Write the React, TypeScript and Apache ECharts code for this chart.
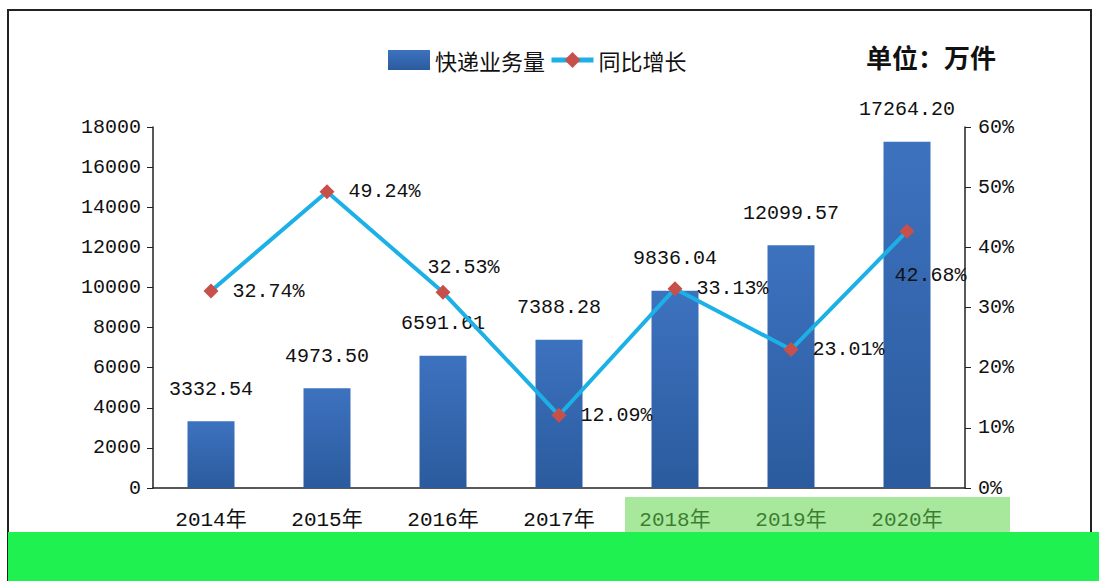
import React, { useEffect, useRef } from "react";
import * as echarts from "echarts";

const categories = ["2014年", "2015年", "2016年", "2017年", "2018年", "2019年", "2020年"];
const volume = [3332.54, 4973.5, 6591.61, 7388.28, 9836.04, 12099.57, 17264.2];
const growth = [32.74, 49.24, 32.53, 12.09, 33.13, 23.01, 42.68];
const volumeLabels = ["3332.54", "4973.50", "6591.61", "7388.28", "9836.04", "12099.57", "17264.20"];
const growthLabels = ["32.74%", "49.24%", "32.53%", "12.09%", "33.13%", "23.01%", "42.68%"];

const MONO = "'Liberation Mono', 'DejaVu Sans Mono', 'Noto Sans CJK SC', monospace";
const CJK = "'Noto Sans CJK SC', sans-serif";

export default function App() {
  const ref = useRef<HTMLDivElement>(null);
  useEffect(() => {
    if (!ref.current) return;
    const chart = echarts.init(ref.current, undefined, { renderer: "svg" });
    const growthOffsets: Record<number, [number, number]> = {
      2: [-37, -25],
      6: [-34, 44],
    };
    chart.setOption({
      animation: false,
      backgroundColor: "#ffffff",
      legend: {
        left: 383,
        top: 44,
        itemGap: 4,
        itemWidth: 42,
        itemHeight: 20,
        textStyle: { fontSize: 22, fontFamily: CJK, color: "#111" },
        data: [
          { name: "快递业务量", icon: "rect" },
          { name: "同比增长", lineStyle: { width: 5, color: "#1cb1e6" } },
        ],
      },
      grid: { left: 153, right: 134, top: 127, bottom: 93 },
      xAxis: {
        type: "category",
        data: categories,
        axisLine: { lineStyle: { color: "#222", width: 1.5 } },
        axisTick: { show: false },
        axisLabel: { fontSize: 21, fontFamily: MONO, color: "#111", margin: 22 },
      },
      yAxis: [
        {
          type: "value",
          min: 0,
          max: 18000,
          interval: 2000,
          splitLine: { show: false },
          axisLine: { show: true, lineStyle: { color: "#222", width: 1.5 } },
          axisTick: { show: true, length: 6, lineStyle: { color: "#222" } },
          axisLabel: {
            fontSize: 20,
            fontFamily: MONO,
            color: "#111",
            margin: 12,
            formatter: (v: number) => String(v),
          },
        },
        {
          type: "value",
          min: 0,
          max: 60,
          interval: 10,
          position: "right",
          splitLine: { show: false },
          axisLine: { show: true, lineStyle: { color: "#222", width: 1.5 } },
          axisTick: { show: true, length: 6, lineStyle: { color: "#222" } },
          axisLabel: { fontSize: 20, fontFamily: MONO, color: "#111", margin: 13, formatter: "{value}%" },
        },
      ],
      series: [
        {
          name: "快递业务量",
          type: "bar",
          barWidth: 47,
          data: volume,
          itemStyle: {
            color: new echarts.graphic.LinearGradient(0, 0, 0, 1, [
              { offset: 0, color: "#3d72bf" },
              { offset: 1, color: "#2b5b9e" },
            ]),
          },
          label: {
            show: true,
            position: "top",
            distance: 22,
            fontSize: 20,
            fontFamily: MONO,
            color: "#111",
            formatter: (p: any) => volumeLabels[p.dataIndex],
          },
        },
        {
          name: "同比增长",
          type: "line",
          yAxisIndex: 1,
          z: 5,
          data: growth.map((v, i) => ({
            value: v,
            label: growthOffsets[i] ? { offset: growthOffsets[i] } : undefined,
          })),
          lineStyle: { color: "#1cb1e6", width: 4 },
          itemStyle: { color: "#c8504a" },
          symbol: "diamond",
          symbolSize: 15,
          label: {
            show: true,
            position: "right",
            distance: 14,
            fontSize: 20,
            fontFamily: MONO,
            color: "#111",
            formatter: (p: any) => growthLabels[p.dataIndex],
          },
        },
      ],
      graphic: [
        {
          type: "rect",
          shape: { x: 8, y: 10, width: 1083, height: 600 },
          style: { fill: "none", stroke: "#222", lineWidth: 2 },
          z: 100,
        },
        {
          type: "text",
          x: 866,
          y: 43,
          style: { text: "单位：万件", font: "bold 26px 'Noto Sans CJK SC', sans-serif", fill: "#111" },
        },
        {
          type: "rect",
          shape: { x: 625, y: 497, width: 385, height: 36 },
          style: { fill: "#5fd64a", opacity: 0.55 },
          z: 100,
        },
        {
          type: "rect",
          shape: { x: 8, y: 532, width: 1091, height: 49 },
          style: { fill: "#1ff250" },
          z: 101,
        },
      ],
    });
    return () => chart.dispose();
  }, []);
  return (
    <div
      ref={ref}
      style={{ position: "fixed", left: 0, top: 0, width: 1099, height: 581 }}
    />
  );
}
